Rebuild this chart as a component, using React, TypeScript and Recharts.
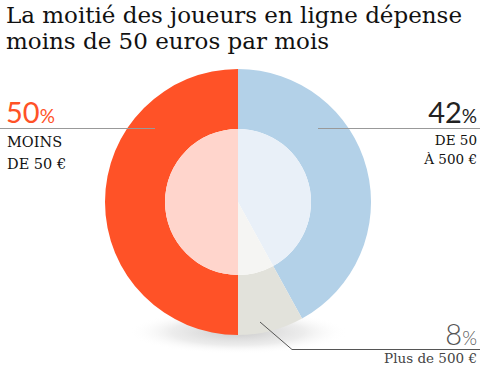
import React from 'react';
import { PieChart, Pie, Cell } from 'recharts';

const categories = ['De 50 à 500 €', 'Plus de 500 €', 'Moins de 50 €'];
const shares = [42, 8, 50];
const outerColors = ['#B3D1E8', '#E2E2DB', '#FF5227'];
const innerColors = ['#E9F0F8', '#F5F5F3', '#FFD5CC'];

const data = categories.map((name, i) => ({ name, value: shares[i] }));

const serif = '"DejaVu Serif", serif';
const sans = 'Lato, "Open Sans", sans-serif';

export default function App() {
  return (
    <div style={{ position: 'absolute', left: 0, top: 0, width: 480, height: 366, background: '#fff', overflow: 'hidden' }}>
      <svg width={480} height={366} style={{ position: 'absolute', left: 0, top: 0 }}>
        <defs>
          <radialGradient id="shadow" cx="50%" cy="50%" r="50%">
            <stop offset="0%" stopColor="#c4c4c4" stopOpacity={0.9} />
            <stop offset="60%" stopColor="#dadada" stopOpacity={0.5} />
            <stop offset="100%" stopColor="#ffffff" stopOpacity={0} />
          </radialGradient>
        </defs>
        <ellipse cx={238} cy={332} rx={110} ry={22} fill="url(#shadow)" />
      </svg>
      <div style={{ position: 'absolute', left: 0, top: 0 }}>
        <PieChart width={480} height={366} margin={{ top: 0, right: 0, bottom: 0, left: 0 }}>
          <Pie data={data} dataKey="value" cx={238} cy={202} innerRadius={73} outerRadius={133}
            startAngle={90} endAngle={-270} stroke="none" isAnimationActive={false}>
            {data.map((d, i) => <Cell key={d.name} fill={outerColors[i]} />)}
          </Pie>
          <Pie data={data} dataKey="value" cx={238} cy={202} innerRadius={0} outerRadius={73}
            startAngle={90} endAngle={-270} stroke="none" isAnimationActive={false}>
            {data.map((d, i) => <Cell key={d.name} fill={innerColors[i]} />)}
          </Pie>
        </PieChart>
      </div>
      <svg width={480} height={366} style={{ position: 'absolute', left: 0, top: 0 }}>
        <text x={6} y={23} fontFamily={serif} fontSize={23} fill="#111" textLength={456} lengthAdjust="spacing">La moitié des joueurs en ligne dépense</text>
        <text x={6} y={49} fontFamily={serif} fontSize={23} fill="#111">moins de 50 euros par mois</text>

        <line x1={0} y1={128.5} x2={155} y2={128.5} stroke="#999" strokeWidth={1} />
        <text x={6} y={123} fontFamily={sans} fontWeight={400} fill="#FF5227">
          <tspan fontSize={29}>50</tspan><tspan fontSize={19}>%</tspan>
        </text>
        <text x={7} y={147} fontFamily={serif} fontSize={14.5} fill="#111">MOINS</text>
        <text x={7} y={169} fontFamily={serif} fontSize={14.5} fill="#111">DE 50 €</text>

        <line x1={318} y1={128.5} x2={480} y2={128.5} stroke="#999" strokeWidth={1} />
        <text x={477} y={123} textAnchor="end" fontFamily={sans} fontWeight={400} fill="#222">
          <tspan fontSize={29}>42</tspan><tspan fontSize={19}>%</tspan>
        </text>
        <text x={477} y={145} textAnchor="end" fontFamily={serif} fontSize={13.5} fill="#111">DE 50</text>
        <text x={477} y={164} textAnchor="end" fontFamily={serif} fontSize={13.5} fill="#111">À 500 €</text>

        <polyline points="260,322 292,349.5 480,349.5" fill="none" stroke="#555" strokeWidth={1} />
        <text x={477} y={345} textAnchor="end" fontFamily={sans} fontWeight={300} fill="#555">
          <tspan fontSize={29}>8</tspan><tspan fontSize={19}>%</tspan>
        </text>
        <text x={477} y={363} textAnchor="end" fontFamily={serif} fontSize={13.5} fill="#444">Plus de 500 €</text>
      </svg>
    </div>
  );
}
